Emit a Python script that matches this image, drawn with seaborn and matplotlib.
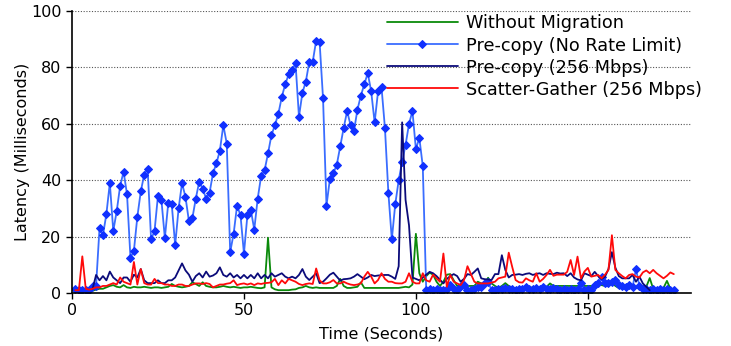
import numpy as np
import pandas as pd
import matplotlib
matplotlib.use("Agg")
import matplotlib.pyplot as plt
import seaborn as sns

# ---------------- data ----------------
labels = ["Without Migration", "Pre-copy (No Rate Limit)",
          "Pre-copy (256 Mbps)", "Scatter-Gather (256 Mbps)"]

# Without Migration: t = 6 .. 174
green_start = 6
green_vals = [0.8, 1.2, 1.5, 1.5, 2, 2.5, 2.8, 2.2, 2, 2.8,
              2, 1.8, 2.2, 2, 2, 2.2, 2, 1.8, 2, 2,
              1.8, 2, 2.2, 3.2, 2.5, 2.2, 2, 2.2, 2.5, 3.8,
              3.2, 2.5, 3.8, 2.5, 2.2, 2, 2, 2.2, 2.5, 2.2,
              2, 2.2, 2, 1.8, 2, 2, 2.2, 2, 1.8, 1.7,
              2, 19.6, 2, 1.3, 1.0, 1.0, 1.0, 1.0, 1.2, 1.3,
              1.8, 2, 2.5, 2, 1.8, 2, 1.8, 1.8, 1.8, 1.8,
              1.8, 2.5, 5, 2.5, 1.8, 1.8, 2, 2.2, 3.8, 1.8,
              1.8, 1.8, 1.8, 1.8, 1.8, 1.8, 1.8, 1.8, 1.8, 1.8,
              2, 2.2, 2, 3, 21, 7, 4, 6, 7.2, 6.5,
              4, 2.5, 4, 6.5, 6.7, 4.5, 2.5, 2.8, 2.5, 2.5,
              2.5, 2.5, 4, 3.4, 3.4, 5.4, 3.4, 2.5, 1.8, 2.5,
              3.5, 2.5, 1.8, 1.8, 1.8, 1.8, 1.8, 1.8, 2, 2,
              1.8, 1.8, 2.2, 3.4, 2.5, 2.5, 2.5, 2.5, 2.5, 2.5,
              2.5, 2.5, 2.5, 2.5, 2.5, 2.5, 2.5, 3.4, 2.8, 2.5,
              2.5, 4, 2.5, 1.8, 1.8, 1.8, 1.8, 1.8, 1.8, 1.8,
              1.8, 2.2, 5.3, 1.5, 1.5, 1.5, 1.8, 4.3, 1.5]

# Pre-copy (No Rate Limit): t = 1 .. 175
blue_start = 1
blue_vals = [1.5, 1.2, 1.2, 1.0, 1.0, 2.5, 2.5, 23, 20.5, 28,
             39, 22, 29, 38, 43, 35, 12.5, 15, 27, 36,
             42, 44, 19, 22, 34.5, 33, 19.5, 32, 31.5, 17,
             30, 39, 34, 25.5, 26.5, 33.5, 39.5, 37, 33.5, 35.5,
             42.5, 46, 50.5, 59.5, 53, 14.5, 21, 31, 27.5, 14,
             27.5, 29.5, 22.5, 33.5, 41.5, 43.5, 49.5, 56, 59.5, 63.5,
             69.5, 74, 77.5, 79, 81.5, 62.5, 71, 75, 82, 82,
             89.5, 89, 69, 31, 40.5, 42.5, 45.5, 52, 58.5, 64.5,
             59.5, 57.5, 65, 70, 74, 78, 71.5, 60.5, 71.5, 73,
             58.5, 35.5, 19, 31.5, 40, 46.5, 52.5, 60, 64.5, 51,
             55, 45, 1.2, 1.5, 1.2, 1.5, 1.0, 1.2, 1.5, 3.0,
             1.5, 1.2, 2.5, 3.0, 1.0, 1.0, 1.5, 2.0, 2.0, 3.5,
             4.0, 1.0, 1.2, 1.5, 1.5, 1.8, 1.5, 1.5, 1.2, 1.5,
             1.5, 2.0, 1.5, 1.5, 1.8, 1.5, 2.0, 1.5, 1.5, 1.8,
             1.5, 1.2, 1.5, 1.2, 1.5, 1.2, 1.5, 3.5, 1.2, 1.5,
             1.2, 3.0, 3.5, 5.5, 3.5, 3.5, 4.0, 4.5, 3.0, 2.5,
             2.0, 3.0, 2.0, 8.5, 2.5, 1.5, 1.5, 1.2, 1.5, 1.2,
             1.5, 1.2, 1.5, 1.2, 1.2]

# Pre-copy (256 Mbps): t = 6 .. 168
navy_start = 6
navy_vals = [1.5, 6.4, 4.5, 6, 4.5, 7.6, 5.5, 4.5, 3.5, 5.5,
             5.5, 4, 6.5, 5.5, 8.5, 4.5, 3.5, 3.5, 3.5, 4.5,
             3.5, 3.5, 4.5, 4.5, 5.5, 8, 10.5, 8, 6.5, 4,
             6, 7, 5.5, 7.6, 5.8, 6.2, 7, 9.1, 6.4, 5.8,
             7, 5.5, 6.4, 5.2, 6.4, 5.2, 6.4, 5.2, 7, 5.2,
             6.4, 5.2, 7, 5.8, 6.4, 7, 5.8, 5.2, 5.8, 5.2,
             6.4, 8.5, 5.8, 4.6, 5.8, 7, 3.5, 4, 5.2, 6.5,
             7.2, 5.8, 4.4, 4.9, 5, 5.2, 5.8, 6.7, 5.8, 4.9,
             5.5, 6.4, 6, 6.2, 6.3, 6.4, 6.4, 5.8, 5, 9.5,
             60.5, 33, 24, 5.5, 5, 4.5, 5.5, 6.5, 7.5, 7,
             6, 4.7, 3.4, 5, 6, 6.7, 6, 4, 5, 6.7,
             6.4, 7.5, 8.7, 5.2, 4.9, 4.8, 4.6, 6.7, 6.7, 13.4,
             8.2, 5.5, 6.4, 6.5, 6.7, 6.4, 6.8, 7, 6.4, 6.8,
             7, 6.4, 7, 6.8, 6.7, 7.2, 6.9, 7, 6, 7,
             5.5, 4.8, 4.5, 7, 6.5, 6, 7.5, 6, 5, 5.8,
             8.5, 14.5, 9, 6, 5.2, 5.2, 5.2, 6.4, 4, 5.8,
             3.4, 2.2, 1.0]

# Scatter-Gather (256 Mbps): t = 1 .. 175
red_start = 1
red_vals = [1, 1, 13, 1.5, 1.2, 1.5, 2, 2, 2.5, 2.5,
            3, 3.5, 3, 5.5, 4, 3.5, 3, 11, 3, 8.5,
            3.5, 3, 3, 5, 3.5, 3.5, 3, 3, 2.5, 2.5,
            3, 3, 2.5, 2.5, 3, 3.4, 3.4, 3.2, 3.5, 3.2,
            2, 2.5, 3, 3, 3.3, 3.5, 4.5, 2.8, 3.2, 3.4,
            3, 3.4, 2.8, 3.4, 3.2, 3.5, 3.6, 3.8, 5, 2.8,
            4.5, 3.4, 5, 4.5, 4, 3.2, 2.8, 3.2, 3.4, 3.2,
            8.7, 4.5, 3.4, 3.4, 3.8, 4.6, 3.4, 3.4, 4, 3.4,
            3, 2.8, 3, 3.4, 5.8, 7.5, 5.8, 3.4, 4.6, 7,
            5, 4, 4, 3.5, 3.4, 3.4, 4, 7, 4, 3.4,
            3.4, 7, 4.5, 4, 6.5, 5.2, 4, 14, 2.2, 6.4,
            4, 3.4, 2.8, 4.6, 9.5, 6.7, 4, 3.4, 3.4, 3.4,
            3.4, 3.7, 4, 5.2, 5.5, 5.8, 14.3, 9.3, 4.6, 3.8,
            3.7, 5.2, 4.5, 4, 7, 4, 5, 6.4, 8.2, 6.1,
            6.5, 6.5, 6.5, 7.5, 11.7, 6.4, 12.9, 5.2, 7.6, 8.9,
            5.8, 6.1, 6.4, 5.2, 6.5, 8.2, 20.5, 8.2, 7, 6,
            5.2, 6.4, 6.7, 5.8, 5.5, 7.3, 8, 7, 8.2, 7,
            6.1, 5.2, 6.1, 7.3, 6.7]

x_ticks = [0, 50, 100, 150]
y_ticks = [0, 20, 40, 60, 80, 100]

# ---------------- build a long table ----------------
def frame(start, vals, name):
    t = np.arange(start, start + len(vals))
    return pd.DataFrame({"time": t, "latency": vals, "series": name})

df = pd.concat([
    frame(green_start, green_vals, labels[0]),
    frame(blue_start, blue_vals, labels[1]),
    frame(navy_start, navy_vals, labels[2]),
    frame(red_start, red_vals, labels[3]),
], ignore_index=True)

# ---------------- plot ----------------
sns.set_theme(style="ticks")
plt.rcParams["font.family"] = ["DejaVu Sans"]
plt.rcParams["text.color"] = "black"
plt.rcParams["axes.labelcolor"] = "black"
plt.rcParams["xtick.color"] = "black"
plt.rcParams["ytick.color"] = "black"
fs = 11.5

fig = plt.figure(figsize=(7.31, 3.46), dpi=100)
ax = fig.add_axes([72 / 731, 1 - 293 / 346, (691 - 72) / 731, (293 - 11) / 346])

styles = {
    labels[0]: dict(color="#0a8a0a", lw=1.3),
    labels[1]: dict(color="#3a6dff", lw=1.3, marker="D", markersize=4.0,
                    markerfacecolor="#1030ff", markeredgecolor="#1030ff"),
    labels[2]: dict(color="#0b0b7a", lw=1.3),
    labels[3]: dict(color="#ff0a0a", lw=1.3),
}
for name in labels:
    sub = df[df["series"] == name]
    sns.lineplot(data=sub, x="time", y="latency", ax=ax, label=name,
                 estimator=None, **styles[name])

ax.set_xlim(0, 180)
ax.set_ylim(0, 100)
ax.set_xticks(x_ticks)
ax.set_yticks(y_ticks)
ax.tick_params(labelsize=fs, length=4, width=1, colors="black")
ax.set_xlabel("Time (Seconds)", fontsize=fs, labelpad=6)
ax.set_ylabel("Latency (Milliseconds)", fontsize=fs, labelpad=0.5)
ax.yaxis.grid(True, linestyle=(0, (1, 1.5)), color="#555555", lw=0.8)
ax.xaxis.grid(False)
ax.set_axisbelow(True)
for s in ["top", "right"]:
    ax.spines[s].set_visible(False)
for s in ["left", "bottom"]:
    ax.spines[s].set_color("black")
    ax.spines[s].set_linewidth(1.2)

leg = ax.legend(loc="upper left", bbox_to_anchor=(387 / 731, 1 - 14.5 / 346),
                bbox_transform=fig.transFigure, frameon=False, fontsize=12.7,
                handlelength=4.0, handletextpad=0.5, borderpad=0,
                labelspacing=0.23, borderaxespad=0)

fig.savefig("out.png", dpi=100)
